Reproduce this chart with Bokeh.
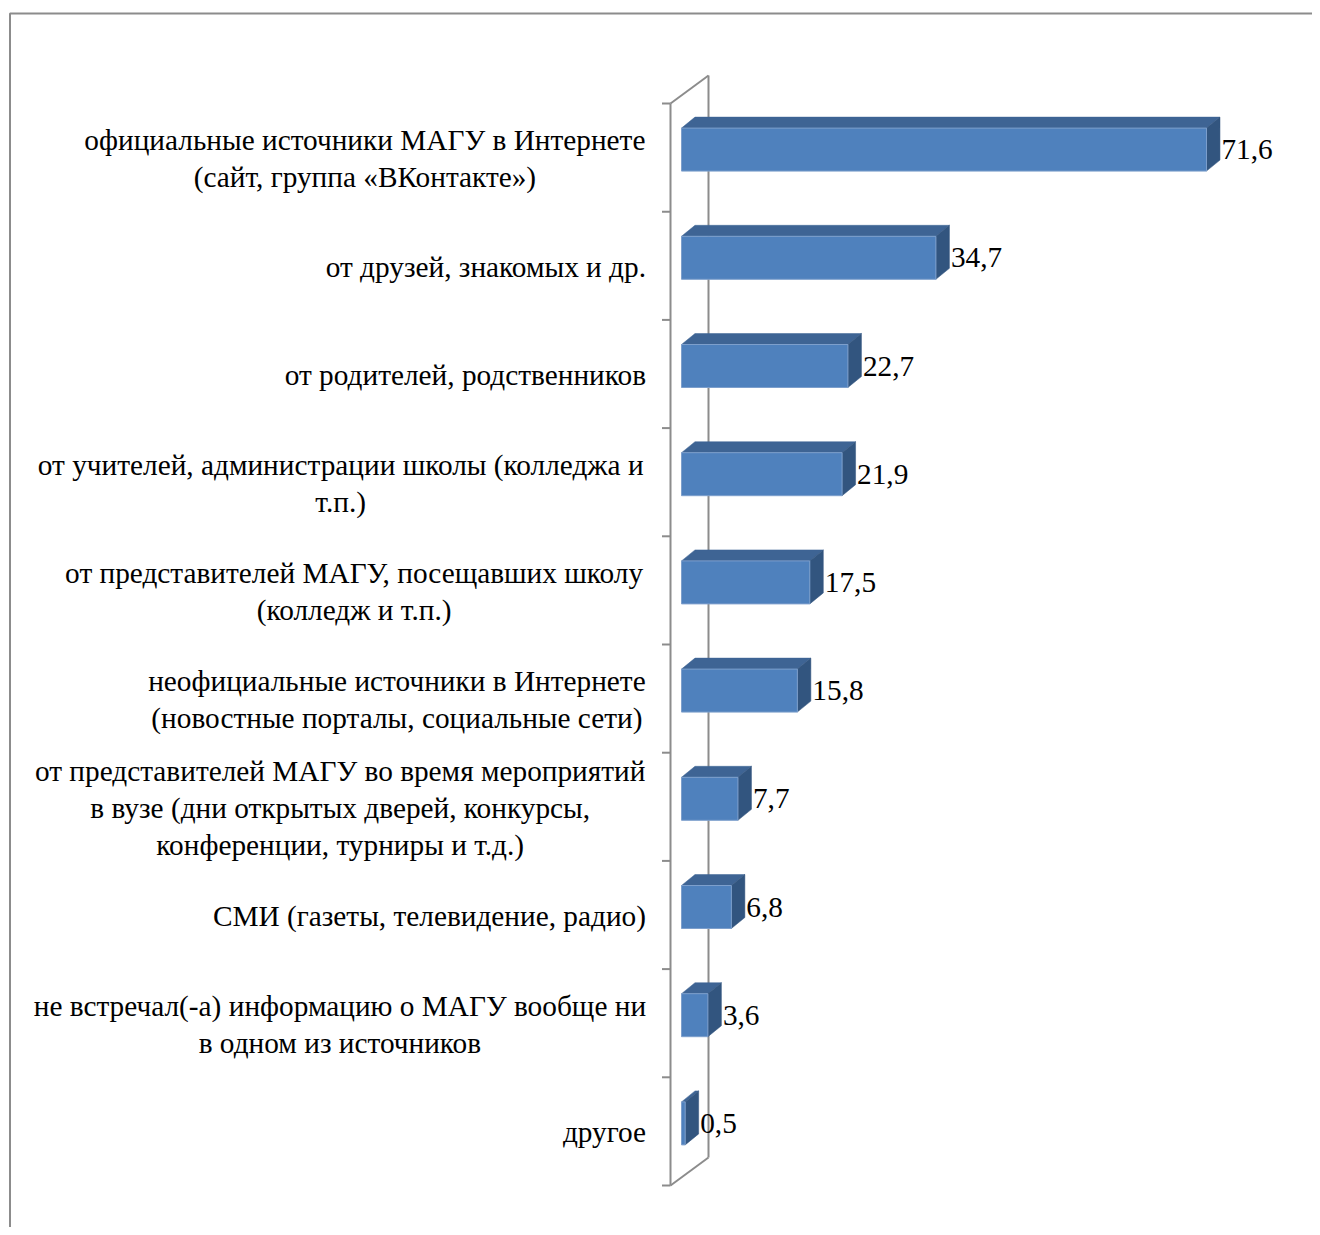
from bokeh.plotting import figure
from bokeh.models import Range1d, ColumnDataSource
from bokeh.core.properties import value
from bokeh.embed import file_html
from bokeh.resources import INLINE

# ---------------- data ----------------
categories = [
    "официальные источники МАГУ в Интернете\n(сайт, группа «ВКонтакте»)",
    "от друзей, знакомых и др.",
    "от родителей, родственников",
    "от учителей, администрации школы (колледжа и\nт.п.)",
    "от представителей МАГУ, посещавших школу\n(колледж и т.п.)",
    "неофициальные источники в Интернете\n(новостные порталы, социальные сети)",
    "от представителей МАГУ во время мероприятий\nв вузе (дни открытых дверей, конкурсы,\nконференции, турниры и т.д.)",
    "СМИ (газеты, телевидение, радио)",
    "не встречал(-а) информацию о МАГУ вообще ни\nв одном из источников",
    "другое",
]
values = [71.6, 34.7, 22.7, 21.9, 17.5, 15.8, 7.7, 6.8, 3.6, 0.5]
value_labels = ["71,6", "34,7", "22,7", "21,9", "17,5", "15,8", "7,7", "6,8", "3,6", "0,5"]

# ---------------- layout / style ----------------
W, H = 1312, 1227
PXU = 7.332        # px per percent
BAND = 108.2       # px per category band
X0 = 681           # canvas x of value 0
Y0 = 103           # canvas y of first band top
FONT = value("Liberation Serif")
FSIZE = "29.3px"
LH = 1.16
WALL = "#8c8c8c"
FRONT, TOP, SIDE = "#4F81BD", "#3E6494", "#32557F"
# centre offsets (px, relative to bar origin) for multi-line labels; None = right aligned
label_centre_px = [-316.6, None, None, -340.8, -327.4, -284.6, -341.3, None, -341.6, None]


def ux(px):
    return px / PXU


def uy(px):
    return px / BAND


p = figure(width=W, height=H, output_backend="svg", toolbar_location=None,
           x_range=Range1d(-X0 / PXU, (W - X0) / PXU),
           y_range=Range1d((H - Y0) / BAND, -Y0 / BAND),
           x_axis_type=None, y_axis_type=None, min_border=0)
p.grid.visible = False
p.outline_line_color = None
p.background_fill_color = "white"

n = len(values)
centers = [i + 0.5 for i in range(n)]

# outer chart border (top & left visible)
bx = ux(9.5 - X0)
by = uy(13 - Y0)
p.line([bx, bx, ux(W - X0) + 1], [uy(H - Y0) + 1, by, by], line_color=WALL, line_width=2)

# 3-D wall
wl = ux(-11)
wdx, wdy = ux(38), uy(-28)
p.line([wl + wdx, wl + wdx], [wdy, n + wdy], line_color=WALL, line_width=2)
p.line([wl, wl + wdx], [0, wdy], line_color=WALL, line_width=2)
p.line([wl, wl + wdx], [n, n + wdy], line_color=WALL, line_width=2)
p.line([wl, wl], [0, n], line_color=WALL, line_width=2)
p.segment(x0=[wl - ux(8.5)] * (n + 1), x1=[wl] * (n + 1), y0=list(range(n + 1)), y1=list(range(n + 1)),
          line_color=WALL, line_width=2)

# 3-D bars
dx, dy = ux(13.5), uy(-11)
fc = [c - uy(8) for c in centers]
ft = [c - uy(21.5) for c in fc]
fb = [c + uy(21.5) for c in fc]
top_xs = [[0, v, v + dx, dx] for v in values]
top_ys = [[t, t, t + dy, t + dy] for t in ft]
side_xs = [[v, v + dx, v + dx, v] for v in values]
side_ys = [[t, t + dy, b + dy, b] for t, b in zip(ft, fb)]
p.patches(top_xs, top_ys, fill_color=TOP, line_color=TOP, line_width=0.5)
p.patches(side_xs, side_ys, fill_color=SIDE, line_color=SIDE, line_width=0.5)
p.quad(left=[0] * n, right=values, top=ft, bottom=fb, fill_color=FRONT, line_color="#7d9fcc", line_width=1)

# value labels
p.text(x=[v + dx for v in values], y=fc, text=value_labels, x_offset=1.5,
       text_font=FONT, text_font_size=FSIZE, text_color="black",
       text_align="left", text_baseline="middle")

# category labels
single = ColumnDataSource(dict(
    x=[0 for c, lc in zip(categories, label_centre_px) if lc is None],
    y=[yc + uy(1) for yc, lc in zip(centers, label_centre_px) if lc is None],
    t=[c for c, lc in zip(categories, label_centre_px) if lc is None]))
multi = ColumnDataSource(dict(
    x=[ux(lc) for lc in label_centre_px if lc is not None],
    y=[yc + uy(1) for yc, lc in zip(centers, label_centre_px) if lc is not None],
    t=[c for c, lc in zip(categories, label_centre_px) if lc is not None]))
p.text(x="x", y="y", text="t", source=single, x_offset=-35.5,
       text_font=FONT, text_font_size=FSIZE, text_color="black",
       text_align="right", text_baseline="middle", text_line_height=LH)
p.text(x="x", y="y", text="t", source=multi,
       text_font=FONT, text_font_size=FSIZE, text_color="black",
       text_align="center", text_baseline="middle", text_line_height=LH)

open("out.html", "w").write(file_html(p, INLINE))
